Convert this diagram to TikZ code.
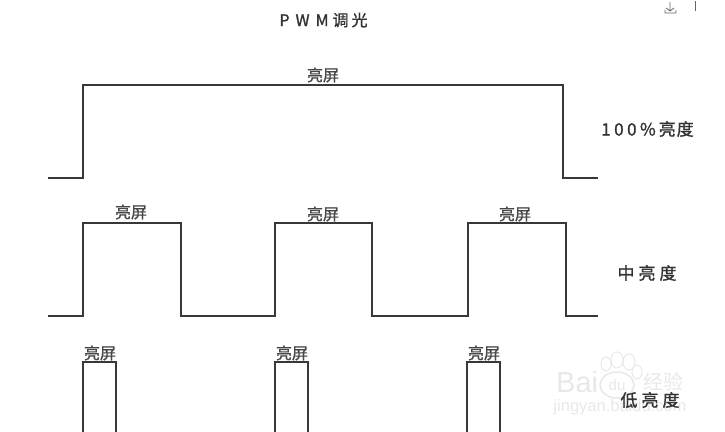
\documentclass[tikz,border=0pt]{standalone}
\usepackage{fontspec}
\setmainfont{Noto Sans CJK SC}
\newfontfamily\heavyf{Noto Sans CJK SC}[FakeBold=1.2]
\newfontfamily\latinf{Liberation Sans}
\begin{document}
\begin{tikzpicture}[x=1pt,y=-1pt,
  wave/.style={draw=black!78,line width=1.9pt,line join=miter},
  pulselabel/.style={font=\heavyf\fontsize{16}{16}\selectfont,text=black!72,inner sep=0pt,anchor=center},
  sidelabel/.style={font=\heavyf\fontsize{17}{17}\selectfont,text=black!80,inner sep=0pt,anchor=center},
  mark text/.style={text=black!9,inner sep=0pt,anchor=center}]
\useasboundingbox (0,0) rectangle (725,431);
% watermark
\node[mark text,font=\latinf\fontsize{29}{29}\selectfont,anchor=west] (wmb) at (556,382) {Bai};
\node[mark text,font=\latinf\fontsize{15}{15}\selectfont] (wmd) at (617,385) {du};
\node[mark text,font=\fontsize{20}{20}\selectfont] (wmj) at (663,382) {经验};
\node[mark text,font=\latinf\fontsize{16.5}{16.5}\selectfont] (wmu) at (620,407) {jingyan.baidu.com};
\foreach \cx/\cy/\rx/\ry in {606/364/5/7,617/360/6/8,629/362/6/8,637/372/5/7}
  \draw[black!9,line width=1pt] (\cx,\cy) ellipse[x radius=\rx,y radius=\ry];
\draw[black!9,line width=1.5pt] (617,385) ellipse[x radius=17,y radius=13];
% download icon
\draw[black!60,line width=.8pt] (670,2) -- (670,11) (666,8) -- (670,11) -- (674,8) (665,10) -- (665,13) -- (676,13) -- (676,10);
\draw[black!60,line width=1pt] (695,1) -- (695,11);
% waves
\draw[wave] (48,178) -- (83,178) -- (83,85) -- (563,85) -- (563,178) -- (598,178);
\draw[wave] (48,316) -- (83,316) -- (83,223) -- (181,223) -- (181,316) -- (275,316) -- (275,223) -- (372,223) -- (372,316) -- (468,316) -- (468,223) -- (566,223) -- (566,316) -- (598,316);
\draw[wave] (83,435) -- (83,362) -- (116,362) -- (116,435);
\draw[wave] (275,435) -- (275,362) -- (308,362) -- (308,435);
\draw[wave] (467,435) -- (467,362) -- (500,362) -- (500,435);
% labels
\node[sidelabel,font=\heavyf\fontsize{16}{16}\selectfont] (title) at (323.5,20) {P\hspace{6pt}W\hspace{6pt}M\hspace{4pt}调\hspace{3pt}光};
\node[pulselabel] (a) at (323,75) {亮屏};
\node[pulselabel] (b1) at (131,212) {亮屏};
\node[pulselabel] (b2) at (323,214) {亮屏};
\node[pulselabel] (b3) at (515,214) {亮屏};
\node[pulselabel] (c1) at (100,353) {亮屏};
\node[pulselabel] (c2) at (292,353) {亮屏};
\node[pulselabel] (c3) at (484,353) {亮屏};
\node[sidelabel] (s1) at (647.5,129) {1\hspace{3.5pt}0\hspace{3.5pt}0\hspace{3.5pt}\%\hspace{3pt}亮\hspace{1pt}度};
\node[sidelabel] (s2) at (647,273) {中\hspace{4pt}亮\hspace{4pt}度};
\node[sidelabel] (s3) at (650,400) {低\hspace{4pt}亮\hspace{4pt}度};
\end{tikzpicture}
\end{document}
